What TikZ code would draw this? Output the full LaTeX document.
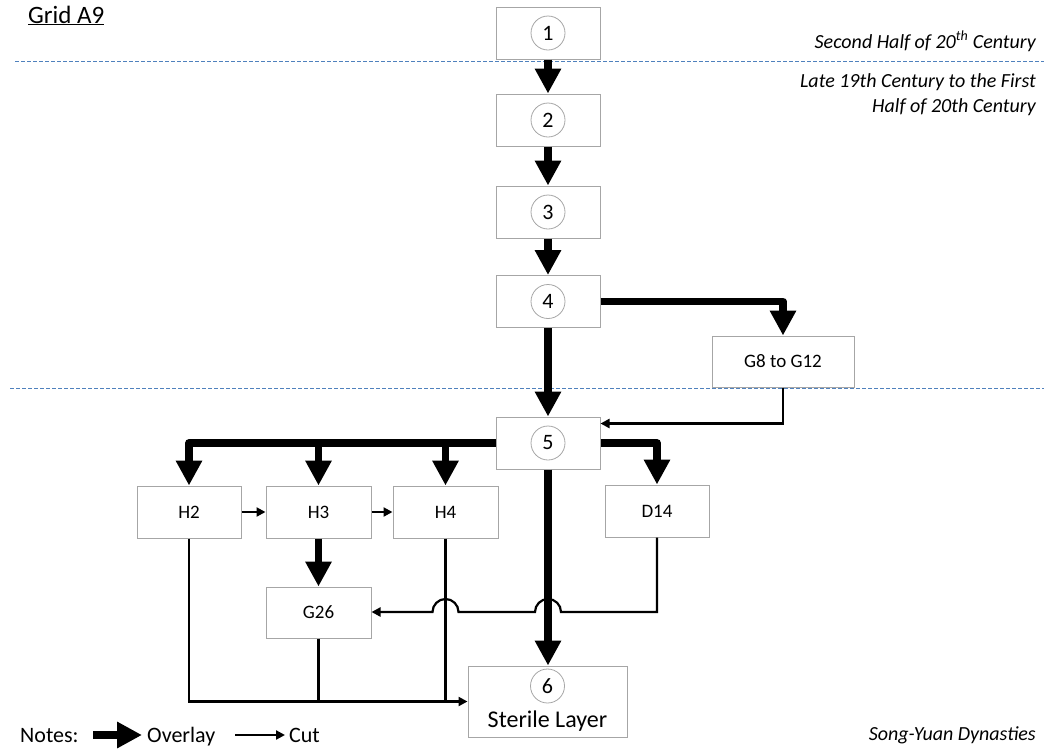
\documentclass[tikz,border=0pt]{standalone}
\usepackage{fontspec}
\setmainfont{Carlito}
\usetikzlibrary{arrows.meta,calc}
\definecolor{boxgray}{RGB}{166,166,166}
\definecolor{dashblue}{RGB}{79,129,189}
\begin{document}
\begin{tikzpicture}[x=1pt,y=-1pt,
  box/.style={draw=boxgray,line width=1pt,minimum width=104pt,minimum height=52pt,inner sep=0pt,font=\fontsize{19}{22}\selectfont},
  num/.style={draw=boxgray,line width=0.8pt,circle,minimum size=34pt,inner sep=0pt,font=\fontsize{22}{24}\selectfont},
  thickarr/.style={line width=7.5pt,line join=round,-{Triangle[width=25pt,length=25pt]}},
  cutarr/.style={line width=2.2pt,-{Triangle[width=9pt,length=9pt]}},
  cutline/.style={line width=2.2pt},
  dashline/.style={draw=dashblue,line width=1pt,dash pattern=on 4pt off 2pt},
  lbl/.style={inner sep=0pt,font=\fontsize{22}{26}\selectfont},
  era/.style={inner sep=0pt,anchor=base east,font=\fontsize{20}{25}\selectfont\itshape},
]
\useasboundingbox (0,0) rectangle (1044,753);

% period separators
\coordinate (d1a) at (15,61);  \coordinate (d1b) at (1044,61);
\coordinate (d2a) at (10,388); \coordinate (d2b) at (1044,388);
\draw[dashline] (d1a) -- (d1b);
\draw[dashline] (d2a) -- (d2b);

% main column
\node[box,fill=white] (n1) at (548,33) {};
\node[num] (c1) at (n1) {1};
\node[box] (n2) at (548,120) {};
\node[num] (c2) at (n2) {2};
\node[box] (n3) at (548,212) {};
\node[num] (c3) at (n3) {3};
\node[box] (n4) at (548,301.5) {};
\node[num] (c4) at (n4) {4};
\node[box,minimum width=142pt,minimum height=51pt] (g8) at (783,361.5) {G8 to G12};
\node[box] (n5) at (548,443) {};
\node[num] (c5) at (n5) {5};

\node[box] (h2) at (189,512) {H2};
\node[box,minimum width=105pt] (h3) at (318.5,512) {H3};
\node[box,minimum width=105pt] (h4) at (445.5,512) {H4};
\node[box] (d14) at (657,511) {D14};
\node[box,minimum width=105pt,minimum height=51pt] (g26) at (318.5,612.5) {G26};

\node[box,minimum width=159pt,minimum height=71pt] (n6) at (547.5,701.5) {};
\node[num] (c6) at (547.5,686) {6};
\node[anchor=base,inner sep=0pt,font=\fontsize{24}{28}\selectfont] (t6) at (547.5,727) {Sterile Layer};

% overlay arrows
\draw[thickarr] (n1.south) -- (n2.north);
\draw[thickarr] (n2.south) -- (n3.north);
\draw[thickarr] (n3.south) -- (n4.north);
\draw[thickarr] (n4.south) -- (n5.north);
\draw[thickarr] (n4.east) -| (g8.north);
\draw[thickarr] (n5.west) -| (h2.north);
\draw[thickarr] (h3.north |- n5.west) -- (h3.north);
\draw[thickarr] (h4.north |- n5.west) -- (h4.north);
\draw[thickarr] (n5.east) -| (d14.north);
\draw[thickarr] (n5.south) -- (n5.south |- n6.north);
\draw[thickarr] (h3.south) -- (g26.north);

% cut arrows
\draw[cutarr] (g8.south) |- ([yshift=-7pt]n5.north east);
\draw[cutarr] (h2.east) -- (h3.west);
\draw[cutarr] (h3.east) -- (h4.west);
\coordinate (hop) at (0,612);
\draw[cutarr] (d14.south) -- (d14.south |- hop)
  -- ([xshift=13pt]n5.south |- hop) arc[start angle=0,end angle=180,radius=13pt]
  -- ([xshift=13pt]h4.south |- hop) arc[start angle=0,end angle=180,radius=13pt]
  -- (g26.east |- hop);
\draw[cutarr] (h2.south) |- (n6.west);
\draw[cutline] (g26.south) -- (g26.south |- n6.west);
\draw[cutline] (h4.south) -- (h4.south |- n6.west);

% texts
\node[anchor=base west,inner sep=0pt,font=\fontsize{25}{28}\selectfont] (title) at (28,23) {\underline{Grid A9}};
\node[era] (era1) at (1036,48) {Second Half of 20\textsuperscript{th} Century};
\node[era] (era2) at (1036,87) {Late 19th Century to the First};
\node[era] (era3) at (1036,112) {Half of 20th Century};
\node[era] (era4) at (1036,740) {Song-Yuan Dynasties};

% legend
\node[lbl,anchor=base west] (notes) at (20,742) {Notes:};
\coordinate (la) at (93,735); \coordinate (lb) at (142,735);
\draw[thickarr] (la) -- (lb);
\node[lbl,anchor=base west] (ov) at (147,742) {Overlay};
\coordinate (lc) at (235,735); \coordinate (ld) at (285,735);
\draw[cutarr] (lc) -- (ld);
\node[lbl,anchor=base west] (cut) at (289,742) {Cut};
\end{tikzpicture}
\end{document}
